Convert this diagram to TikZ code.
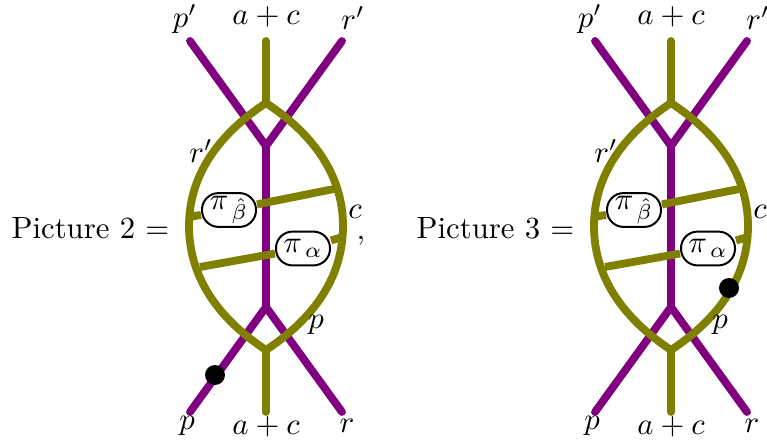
\documentclass[tikz,border=0pt]{standalone}
\tikzset{
  purp/.style={draw=myPurple,line width=2.55pt,line cap=round,line join=miter},
  oliv/.style={draw=myOlive,line width=2.55pt,line cap=round,line join=miter},
  pill/.style={draw=black,fill=white,line width=.65pt,rounded corners=5.4pt,minimum width=17.55pt,minimum height=11pt,inner sep=0pt},
  blob/.style={circle,fill=black,minimum size=6.5pt,inner sep=0pt},
  lab/.style={inner sep=0pt}
}
\definecolor{myPurple}{RGB}{128,0,128}
\definecolor{myOlive}{RGB}{128,128,0}
\newcommand{\sharedpart}{%
  \coordinate (tl) at (190,41);
  \coordinate (tm) at (266,41);
  \coordinate (tr) at (342,41);
  \coordinate (bl) at (190,412);
  \coordinate (bm) at (266,412);
  \coordinate (br) at (342,412);
  \coordinate (pt) at (266,146);
  \coordinate (pb) at (266,307);
  \coordinate (ot) at (266,103);
  \coordinate (ob) at (266,350);
  \coordinate (ol) at (189,226);
  \coordinate (or) at (343,226);
  \coordinate (ba) at (189,217);
  \coordinate (bb) at (334,189);
  \coordinate (aa) at (200,267);
  \coordinate (ab) at (343,237);
  \draw[purp] (tl) -- (pt) -- (tr);
  \draw[purp] (pt) -- (pb);
  \draw[purp] (bl) -- (pb) -- (br);
  \draw[oliv] (tm) -- (ot);
  \draw[oliv] (bm) -- (ob);
  \draw[oliv] (ot) .. controls (225,130) and (189,170) .. (ol)
     .. controls (189,283) and (225,323) .. (ob)
     .. controls (307,323) and (343,283) .. (or)
     .. controls (343,170) and (307,130) .. (ot) -- cycle;
  \node[pill] (pbeta) at (229,210) {$\pi_{\,\hat\beta}$};
  \node[pill] (palpha) at (303,248.5) {$\pi_{\,\alpha}$};
  \draw[oliv,line cap=butt] (ba) -- (pbeta);
  \draw[oliv,line cap=butt] (pbeta) -- (bb);
  \draw[oliv,line cap=butt] (aa) -- (palpha);
  \draw[oliv,line cap=butt] (palpha) -- (ab);
  \node[lab] (lp) at (185,19) {$p'$};
  \node[lab] (lac) at (266,17) {$a+c$};
  \node[lab] (lr) at (353,18) {$r'$};
  \node[lab] (lri) at (201,151) {$r'$};
  \node[lab] (lc) at (355,212) {$c$};
  \node[lab] (lpb) at (187,426) {$p$};
  \node[lab] (lacb) at (266,427) {$a+c$};
  \node[lab] (lrb) at (347,426) {$r$};
}
\begin{document}
\begin{tikzpicture}[x=0.325pt,y=-0.325pt]
\useasboundingbox (0,0) rectangle (767,442);
\begin{scope}[name prefix=l-]
  \sharedpart
  \node[lab] (lpi) at (316,325) {$p$};
  \node[blob] (dot) at (215,375) {};
  \node[lab] (eq) at (90.5,228) {Picture 2 $=$};
  \node[lab] (comma) at (361,241) {$,$};
\end{scope}
\begin{scope}[shift={(405,0)},name prefix=r-]
  \sharedpart
  \node[lab] (lpi) at (315,325) {$p$};
  \node[blob] (dot) at (324,288) {};
  \node[lab] (eq) at (90.5,228) {Picture 3 $=$};
\end{scope}
\end{tikzpicture}
\end{document}
